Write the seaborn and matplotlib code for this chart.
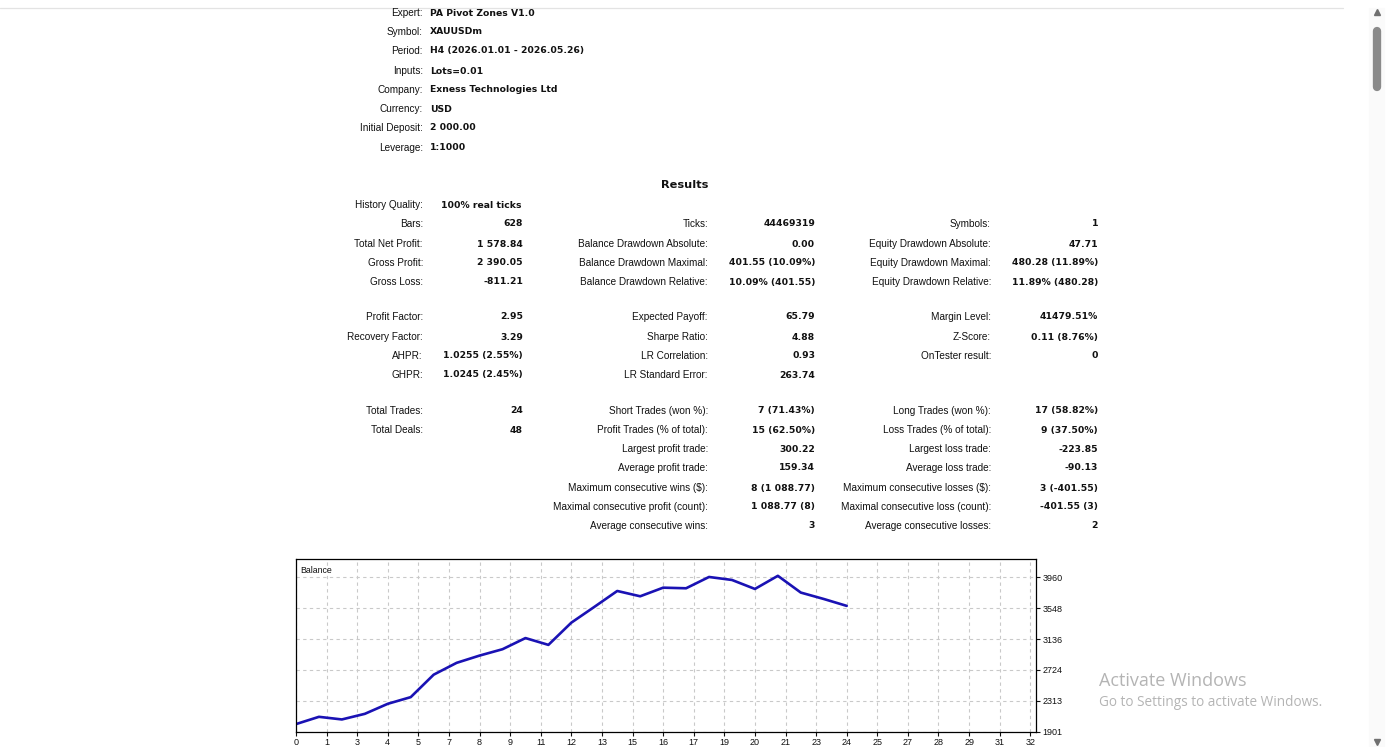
import matplotlib
matplotlib.use("Agg")
import matplotlib.pyplot as plt
from matplotlib.lines import Line2D
import numpy as np
import pandas as pd
import seaborn as sns

W, H = 1389, 747

# header block
header_labels = ["Expert:", "Symbol:", "Period:", "Inputs:", "Company:", "Currency:",
                 "Initial Deposit:", "Leverage:"]
header_values = ["PA Pivot Zones V1.0", "XAUUSDm", "H4 (2026.01.01 - 2026.05.26)", "Lots=0.01",
                 "Exness Technologies Ltd", "USD", "2 000.00", "1:1000"]

# results table
col1_labels = ["Bars:", "Total Net Profit:", "Gross Profit:", "Gross Loss:",
               "Profit Factor:", "Recovery Factor:", "AHPR:", "GHPR:",
               "Total Trades:", "Total Deals:", "", "", "", "", ""]
col1_values = ["628", "1 578.84", "2 390.05", "-811.21",
               "2.95", "3.29", "1.0255 (2.55%)", "1.0245 (2.45%)",
               "24", "48", "", "", "", "", ""]
col2_labels = ["Ticks:", "Balance Drawdown Absolute:", "Balance Drawdown Maximal:",
               "Balance Drawdown Relative:", "Expected Payoff:", "Sharpe Ratio:",
               "LR Correlation:", "LR Standard Error:", "Short Trades (won %):",
               "Profit Trades (% of total):", "Largest profit trade:", "Average profit trade:",
               "Maximum consecutive wins ($):", "Maximal consecutive profit (count):",
               "Average consecutive wins:"]
col2_values = ["44469319", "0.00", "401.55 (10.09%)", "10.09% (401.55)", "65.79", "4.88",
               "0.93", "263.74", "7 (71.43%)", "15 (62.50%)", "300.22", "159.34",
               "8 (1 088.77)", "1 088.77 (8)", "3"]
col3_labels = ["Symbols:", "Equity Drawdown Absolute:", "Equity Drawdown Maximal:",
               "Equity Drawdown Relative:", "Margin Level:", "Z-Score:", "OnTester result:", "",
               "Long Trades (won %):", "Loss Trades (% of total):", "Largest loss trade:",
               "Average loss trade:", "Maximum consecutive losses ($):",
               "Maximal consecutive loss (count):", "Average consecutive losses:"]
col3_values = ["1", "47.71", "480.28 (11.89%)", "11.89% (480.28)", "41479.51%", "0.11 (8.76%)",
               "0", "", "17 (58.82%)", "9 (37.50%)", "-223.85", "-90.13",
               "3 (-401.55)", "-401.55 (3)", "2"]

# balance curve
trade_no = list(range(25))
balance = [2000.00, 2097, 2062, 2137, 2271, 2360, 2660, 2818, 2915, 3000, 3149, 3058,
           3355, 3565, 3778, 3707, 3822, 3814, 3965, 3925, 3805, 3980.39, 3756.54,
           3671, 3578.84]
y_ticks = [1901, 2313, 2724, 3136, 3548, 3960]
x_tick_count = 25
x_max_label = 32

sns.set_style("white")
plt.rcParams["font.family"] = ["Liberation Sans", "DejaVu Sans"]

fig = plt.figure(figsize=(W / 100, H / 100), dpi=100)
fig.patch.set_facecolor("white")


def fx(x):
    return x / W


def fy(y):
    return 1 - y / H


FS = 7.2
FB = 6.7
BOLD = ["DejaVu Sans"]
TXT = "#111111"

# header
header_y = [13, 32, 51, 71, 90, 109, 128, 148]
for y, lab, val in zip(header_y, header_labels, header_values):
    fig.text(fx(423), fy(y), lab, ha="right", va="center", fontsize=FS, color=TXT)
    fig.text(fx(430), fy(y), val, ha="left", va="center", fontsize=FB, color=TXT,
             fontweight="bold", family=BOLD)

fig.text(fx(685), fy(185), "Results", ha="center", va="center", fontsize=8.2,
         color=TXT, fontweight="bold", family=BOLD)
fig.text(fx(423), fy(205), "History Quality:", ha="right", va="center", fontsize=FS, color=TXT)
fig.text(fx(441), fy(205), "100% real ticks", ha="left", va="center", fontsize=FB, color=TXT,
         fontweight="bold", family=BOLD)

rows_y = [224, 244, 263, 282, 317, 337, 356, 375, 411, 430, 449, 468, 488, 507, 526]
columns = [(col1_labels, col1_values, 423, 523),
           (col2_labels, col2_values, 708, 815),
           (col3_labels, col3_values, 991, 1098)]
for labels, values, lx, vx in columns:
    for y, lab, val in zip(rows_y, labels, values):
        if lab:
            fig.text(fx(lx), fy(y), lab, ha="right", va="center", fontsize=FS, color=TXT)
        if val:
            fig.text(fx(vx), fy(y), val, ha="right", va="center", fontsize=FB, color=TXT,
                     fontweight="bold", family=BOLD)

# balance chart
ax = fig.add_axes([fx(296), fy(731.5), fx(1036) - fx(296), fy(559) - fy(731.5)])
df = pd.DataFrame({"trade": trade_no, "balance": balance})
sns.lineplot(data=df, x="trade", y="balance", ax=ax, color="#1a12b4", linewidth=1.9)

tick_pos = np.linspace(0, x_max_label, x_tick_count)
ax.set_xticks(tick_pos)
ax.set_xticklabels([str(int(round(t))) for t in tick_pos])
ax.set_xlim(0, 32.25)
ax.set_ylim(1901, 4205)
ax.set_yticks(y_ticks)
ax.set_yticklabels([str(v) for v in y_ticks])
ax.yaxis.tick_right()
ax.set_xlabel("")
ax.set_ylabel("")
ax.tick_params(axis="both", labelsize=6.5, colors=TXT, length=3, width=0.8,
               direction="out", pad=1.5)
ax.tick_params(axis="x", bottom=True)
ax.tick_params(axis="y", right=True, left=False)
ax.grid(True, color="#c9c9c9", linestyle=(0, (3, 3)), linewidth=0.8)
for s in ax.spines.values():
    s.set_color("#000000")
    s.set_linewidth(0.9)
ax.text(0.006, 0.96, "Balance", transform=ax.transAxes, ha="left", va="top",
        fontsize=6.3, color=TXT)

# window chrome: top rule, scrollbar, watermark
fig.add_artist(Line2D([fx(0), fx(1343)], [fy(8), fy(8)], color="#e3e3e3", linewidth=0.9))
fig.add_artist(plt.Rectangle((fx(1369), 0), fx(15), fy(8),
                             transform=fig.transFigure, color="#fafafa", zorder=0))
fig.add_artist(Line2D([fx(1376.5), fx(1376.5)], [fy(31), fy(87)], color="#8a8a8a",
                      linewidth=6.0, solid_capstyle="round"))
fig.add_artist(Line2D([fx(1376.5)], [fy(12)], marker="^", markersize=4.5, color="#707070",
                      linestyle="none"))
fig.add_artist(Line2D([fx(1376.5)], [fy(742)], marker="v", markersize=4.5, color="#707070",
                      linestyle="none"))
fig.text(fx(1099), fy(681), "Activate Windows", ha="left", va="center", fontsize=13.0,
         color="#b4b4b4", family=["Open Sans", "DejaVu Sans"])
fig.text(fx(1099), fy(703), "Go to Settings to activate Windows.", ha="left", va="center",
         fontsize=9.8, color="#b4b4b4", family=["Open Sans", "DejaVu Sans"])

fig.savefig("out.png", dpi=100, facecolor="white")
